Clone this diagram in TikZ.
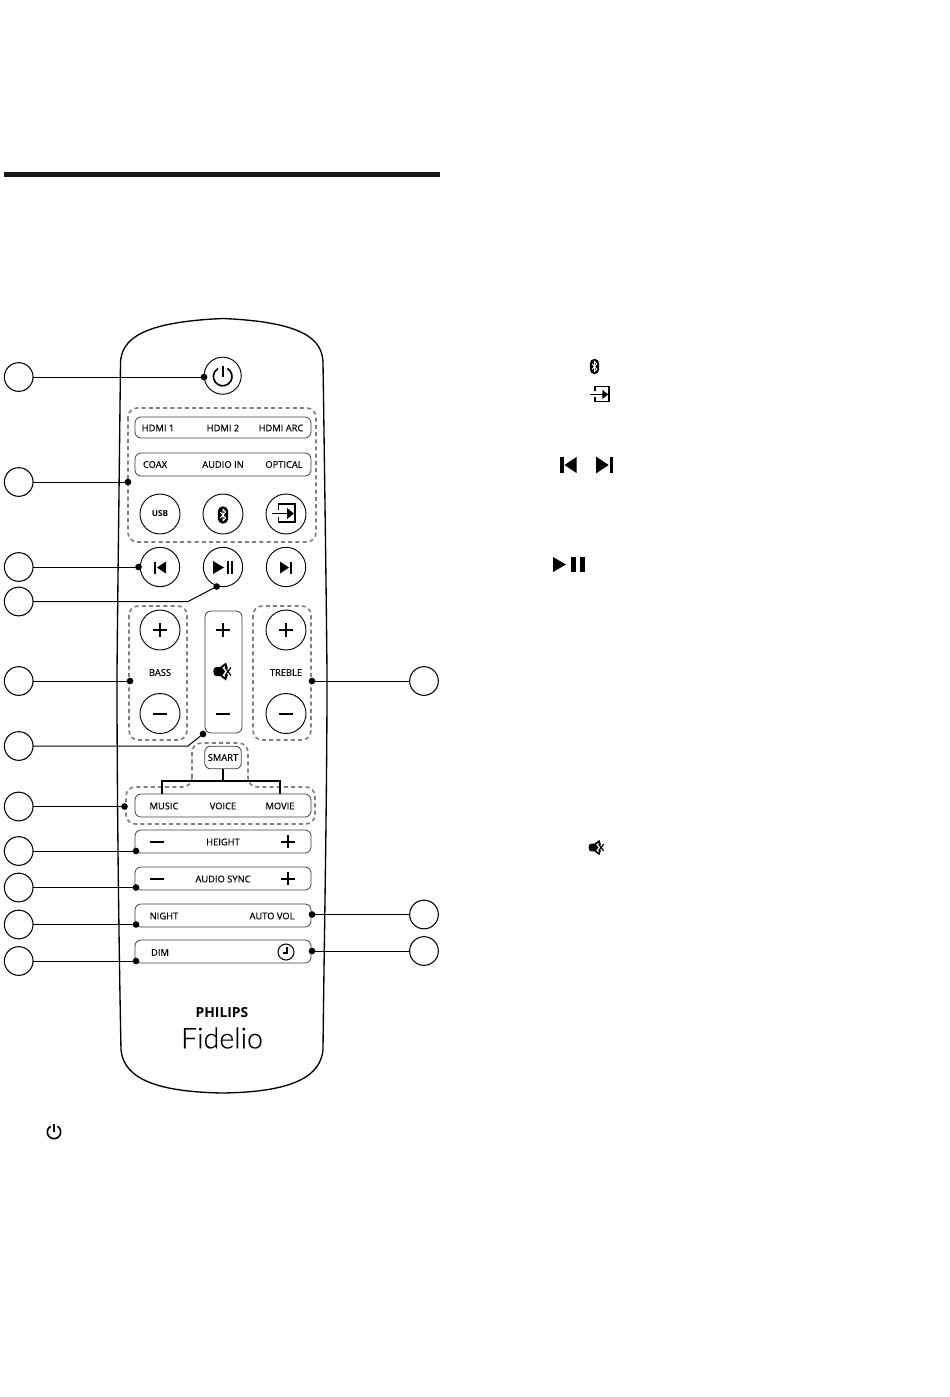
\documentclass[tikz,border=0pt]{standalone}
\usepackage{fontspec}
\setmainfont{Open Sans}
\newfontfamily\labfont{Open Sans}[FakeBold=0.35]
\newfontfamily\fidfont{Lato Light}[FakeBold=0.3]
\begin{document}
\begin{tikzpicture}[x=0.75pt,y=-0.75pt,
  every node/.style={inner sep=0,outer sep=0},
  body/.style={draw=black,line width=1pt},
  roundbtn/.style={draw=black,line width=0.7pt,fill=white},
  pill/.style={draw=black!75,line width=0.6pt,rounded corners=4.5pt},
  dashbox/.style={draw=black!50,line width=1.25pt,dash pattern=on 3pt off 2.4pt,rounded corners=7pt},
  callout/.style={draw=black,line width=0.8pt,circle,minimum size=21.5pt},
  lead/.style={draw=black,line width=0.75pt},
  dot/.style={circle,fill=black,minimum size=5pt},
  lab/.style={font=\labfont\fontsize{7pt}{8pt}\selectfont,text=black},
  pwr/.pic={\draw[line width=1.25pt] (-60:9.3) arc[start angle=-60,end angle=240,radius=9.3]; \draw[line width=1.25pt] (0,-11) -- (0,0.5);},
  btic/.pic={\fill[black,rounded corners=3.6pt] (-5.2,-8.6) rectangle (5.2,8.6);
    \draw[white,line width=0.7pt] (-2.6,-3) -- (2.6,3) -- (0,5.6) -- (0,-5.6) -- (2.6,-3) -- (-2.6,3);},
  inic/.pic={\draw[line width=1.15pt] (-7.5,-3) -- (-7.5,-9) -- (9,-9) -- (9,9) -- (-7.5,9) -- (-7.5,4);
    \draw[line width=1.2pt] (-14,0.5) -- (2,0.5); \fill (8,0.5) -- (1,-5) -- (1,6) -- cycle;},
  previc/.pic={\fill (-6,-6) rectangle (-3.6,6); \fill (-3,0) -- (6,-6) -- (6,6) -- cycle;},
  nextic/.pic={\fill (6,-6) rectangle (3.6,6); \fill (3,0) -- (-6,-6) -- (-6,6) -- cycle;},
  ppic/.pic={\fill (-10,-6.5) -- (1,0) -- (-10,6.5) -- cycle; \fill (3.7,-6.5) rectangle (6.3,6.5); \fill (7.8,-6.5) rectangle (10.4,6.5);},
  ppwide/.pic={\fill (-16,-7.5) -- (-3,0) -- (-16,7.5) -- cycle; \fill (2,-7.5) rectangle (7,7.5); \fill (11,-7.5) rectangle (16,7.5);},
  plusic/.pic={\draw[line width=1.5pt] (-6.8,0) -- (6.8,0) (0,-6.8) -- (0,6.8);},
  minusic/.pic={\draw[line width=1.5pt] (-6.8,0) -- (6.8,0);},
  muteic/.pic={\fill (-6,-4.5) to[out=180,in=180] (-6,4.5) -- (-2,4.5) -- (4,9) -- (6,3) -- (6,-3) -- (4,-9) -- (-2,-4.5) -- cycle;
    \draw[white,line width=1.9pt] (1.5,-4.5) -- (8.5,4.5) (1.5,4.5) -- (8.5,-4.5);
    \draw[line width=0.9pt] (3,-4) -- (9,4) (3,4) -- (9,-4);},
  clockic/.pic={\draw[line width=0.8pt] (0,0) circle[radius=8]; \draw[line width=0.9pt] (1,-5) -- (1,1) -- (-3,1);}
]
\useasboundingbox (0,0) rectangle (950,1397);
\fill[white] (0,0) rectangle (950,1397);
% top rule
\fill[black!90] (4,172) rectangle (440,177);
% remote body
\draw[body] (120.5,362) .. controls (122,340) and (140,322) .. (223,318.5)
  .. controls (305,322) and (322,340) .. (323,362)
  .. controls (325,500) and (327,650) .. (327,680)
  .. controls (327,800) and (324,950) .. (323,1050)
  .. controls (320,1080) and (285,1092) .. (223,1093)
  .. controls (160,1092) and (124,1080) .. (121,1050)
  .. controls (119,950) and (117,800) .. (117,680)
  .. controls (117,650) and (119,500) .. (120.5,362) -- cycle;
% dashed groups
\draw[dashbox] (128,408) rectangle (316,542);
\draw[dashbox] (129,606) rectangle (187,740);
\draw[dashbox] (253,606) rectangle (311,740);
\draw[dashbox] (192,787) -- (192,743) -- (248,743) -- (248,787) -- (315,787) -- (315,824) -- (126,824) -- (126,787) -- cycle;
% buttons
\node[roundbtn,circle,minimum size=27.8pt] (power) at (222.7,375.7) {};
\draw[pill] (135,417) rectangle (311,438);
\node[lab] at (158,428) {HDMI 1};
\node[lab] at (223,428) {HDMI 2};
\node[lab] at (281,428) {HDMI ARC};
\draw[pill] (135,453) rectangle (311,476);
\node[lab] at (155,464.5) {COAX};
\node[lab] at (223,464.5) {AUDIO IN};
\node[lab] at (284,464.5) {OPTICAL};
\node[roundbtn,circle,minimum size=30pt] (usb) at (160,514) {};
\node[lab,font=\fontsize{6.2pt}{7pt}\selectfont\bfseries] at (160,514) {USB};
\node[roundbtn,circle,minimum size=30pt] (bt) at (223,514) {};
\pic at (223,515) {btic};
\node[roundbtn,circle,minimum size=30pt] (input) at (286,514) {};
\pic at (286,513) {inic};
\node[roundbtn,circle,minimum size=29.5pt] (prev) at (160,567) {};
\pic at (160,567.5) {previc};
\node[roundbtn,circle,minimum size=29.5pt] (play) at (223,567) {};
\pic at (223,567.5) {ppic};
\node[roundbtn,circle,minimum size=29.5pt] (next) at (286,567) {};
\pic at (286,567.5) {nextic};
% bass
\node[roundbtn,circle,minimum size=30pt] (bassp) at (160,630) {};
\pic at (160,630) {plusic};
\node[lab] at (160,672.5) {BASS};
\node[roundbtn,circle,minimum size=30pt] (bassm) at (160,713.5) {};
\pic at (160,713.5) {minusic};
% volume
\draw[pill] (205,611) rectangle (242,733);
\pic at (223,630) {plusic};
\pic at (222,671.5) {muteic};
\pic at (223,714) {minusic};
% treble
\node[roundbtn,circle,minimum size=30pt] (trebp) at (286,630) {};
\pic at (286,630) {plusic};
\node[lab] at (286,672.5) {TREBLE};
\node[roundbtn,circle,minimum size=30pt] (trebm) at (286,713.5) {};
\pic at (286,713.5) {minusic};
% smart
\node[lab,draw=black!75,line width=0.6pt,rounded corners=4.5pt,minimum width=27.5pt,minimum height=17pt,fill=white] (smart) at (223,757.5) {SMART};
\coordinate (musictop) at (162,794);
\coordinate (movietop) at (280,794);
\draw[draw=black,line width=1.2pt] (smart.south) -- (223,781);
\draw[draw=black,line width=1.2pt] (musictop) -- (162,781) -- (280,781) -- (movietop);
\draw[pill] (135,794) rectangle (311,817);
\node[lab] at (164,806) {MUSIC};
\node[lab] at (223,806) {VOICE};
\node[lab] at (280,806) {MOVIE};
\draw[pill] (135,830) rectangle (311,853);
\pic at (157,841.5) {minusic};
\node[lab] at (223,842) {HEIGHT};
\pic at (288,841.5) {plusic};
\draw[pill] (135,867) rectangle (311,890);
\pic at (157,878.5) {minusic};
\node[lab] at (223,879) {AUDIO SYNC};
\pic at (288,878.5) {plusic};
\draw[pill] (135,904) rectangle (311,927);
\node[lab] at (164,916) {NIGHT};
\node[lab] at (272,916) {AUTO VOL};
\draw[pill] (135,940) rectangle (311,963);
\node[lab] at (160,952.5) {DIM};
\pic at (286,952) {clockic};
% logo
\node[font=\fontsize{10.4pt}{11pt}\selectfont\bfseries] at (222,1013) {PHILIPS};
\node[font=\fidfont\fontsize{21.5pt}{24pt}\selectfont] at (222,1038) {Fidelio};
% callouts
\foreach \n/\yy in {c1/377,c2/482,c3/567,c4/601.5,c5/681,c6/746,c7/806.5,c8/851,c9/887.5,c10/924.5,c11/961}
  \node[callout] (\n) at (18.7,\yy) {};
\foreach \n/\yy in {r1/681,r2/914.5,r3/951}
  \node[callout] (\n) at (424,\yy) {};
\foreach \n/\xx/\yy in {d1/204/377,d2/128/482,d3/138.5/567,d4/216.7/586.5,d5/130/681,d6/203/734,d7/124.5/806.5,d8/136/851,d9/136/887.5,d10/136/924.5,d11/136/961,e1/312/681,e2/312/914.5,e3/312/951}
  \node[dot] (\n) at (\xx,\yy) {};
\draw[lead] (c1) -- (d1);
\draw[lead] (c2) -- (d2);
\draw[lead] (c3) -- (d3);
\draw[lead] (c4.east) -- (188,601.5) -- (d4);
\draw[lead] (c5) -- (d5);
\draw[lead] (c6.east) -- (188,746) -- (d6);
\draw[lead] (c7) -- (d7);
\draw[lead] (c8) -- (d8);
\draw[lead] (c9) -- (d9);
\draw[lead] (c10) -- (d10);
\draw[lead] (c11) -- (d11);
\draw[lead] (r1) -- (e1);
\draw[lead] (r2) -- (e2);
\draw[lead] (r3) -- (e3);
% text icons
\pic[scale=0.72] at (54,1132) {pwr};
\pic[scale=0.9] at (594.5,366.5) {btic};
\pic[scale=0.85] at (601.4,394) {inic};
\pic[scale=1.35] at (568.5,465) {previc};
\pic[scale=1.4] at (604.5,465) {nextic};
\pic at (569,564.5) {ppwide};
\pic[scale=0.85] at (596,847.5) {muteic};
\pic at (222.7,376.5) {pwr};
\end{tikzpicture}
\end{document}
